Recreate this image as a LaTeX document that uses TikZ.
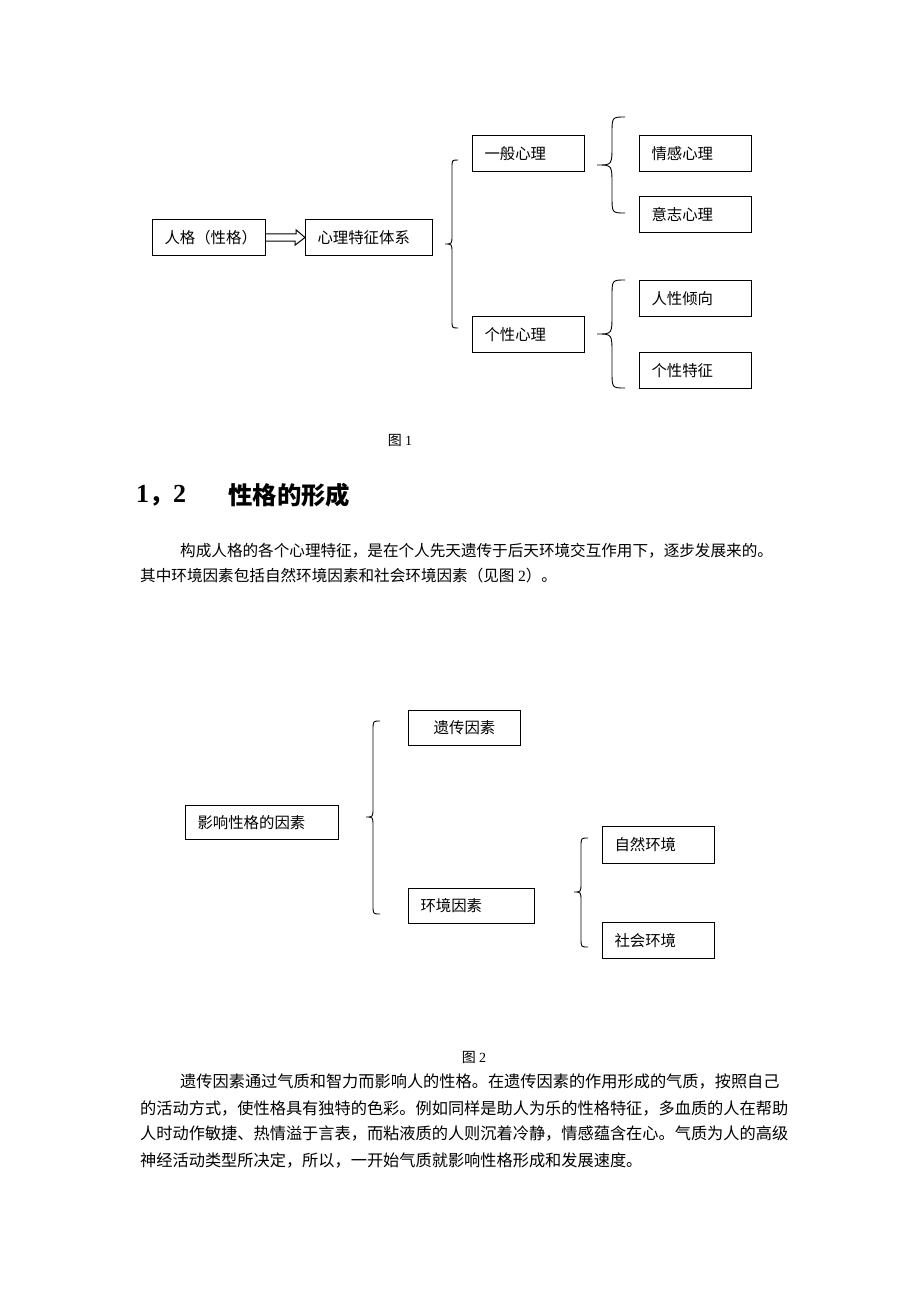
\documentclass[tikz,border=0pt]{standalone}
\usepackage{fontspec}
\setmainfont{Liberation Serif}
\newfontfamily\cjk{Noto Sans CJK SC}
\usetikzlibrary{calc}

\tikzset{
  kuang/.style={draw, line width=1pt, anchor=north west, minimum height=36pt,
    inner xsep=12pt, inner ysep=0pt, align=left,
    font=\cjk\fontsize{15.4}{18}\selectfont},
  kuohao/.style={line width=0.9pt},
  wenzi/.style={anchor=west, inner sep=0pt},
}

% brace: end x, line x, tip x, top y, tip y, bottom y
\newcommand{\dakuohao}[6]{%
  \draw[kuohao] (#1,#4) .. controls (#2,#4) .. (#2,{#4+1.3*(#1-#2)})
    -- (#2,{#5-1.3*(#2-#3)}) .. controls (#2,#5) .. (#3,#5)
    .. controls (#2,#5) .. (#2,{#5+1.3*(#2-#3)})
    -- (#2,{#6-1.3*(#1-#2)}) .. controls (#2,#6) .. (#1,#6);}

\begin{document}
\begin{tikzpicture}[x=1pt,y=-1pt]
  \fill[white] (0,0) rectangle (920,1302);
  \useasboundingbox (0,0) rectangle (920,1302);

  %Fig 1 nodes
  \node[kuang, text width=89pt]  at (152,219) (renge)    {人格（性格）};
  \node[kuang, text width=103pt] at (305,219) (xinli)    {心理特征体系};
  \node[kuang, text width=88pt]  at (472,135) (yiban)    {一般心理};
  \node[kuang, text width=88pt]  at (472,316) (gexing)   {个性心理};
  \node[kuang, text width=88pt]  at (639,135) (qinggan)  {情感心理};
  \node[kuang, text width=88pt]  at (639,196) (yizhi)    {意志心理};
  \node[kuang, text width=88pt]  at (639,280) (renxing)  {人性倾向};
  \node[kuang, text width=88pt]  at (639,352) (tezheng)  {个性特征};

  %Fig 1 arrow and braces
  \draw[line width=1pt, line join=miter]
    ($(renge.east)+(0,-3.7)$) -- ++(30,0) -- ++(0,-4)
    -- (xinli.west) -- ++(-10,7.7) -- ++(0,-4) -- ($(renge.east)+(0,3.7)$);
  \dakuohao{458}{452}{445}{160}{244}{328}
  \dakuohao{625}{612}{597}{117}{165}{213}
  \dakuohao{625}{612}{597}{280}{334}{388}

  \node[font=\cjk\fontsize{14}{16}\selectfont] at (400,440) (tu1) {图 {\rmfamily 1}};

  %Heading and text
  \node[wenzi, font=\bfseries\fontsize{26}{30}\selectfont] at (136,496) (bianhao) {1{\cjk\bfseries\fontsize{24}{28}\selectfont ，}2};
  \node[wenzi, font=\cjk\bfseries\fontsize{24.4}{28}\selectfont] at (228,495) (biaoti) {性格的形成};
  \begin{scope}[every node/.append style={wenzi, font=\cjk\fontsize{15.6}{18}\selectfont}]
    \node at (180,551) (duan1a) {构成人格的各个心理特征，是在个人先天遗传于后天环境交互作用下，逐步发展来的。};
    \node at (140,576) (duan1b) {其中环境因素包括自然环境因素和社会环境因素（见图 {\rmfamily 2}）。};
  \end{scope}

  %Fig 2 nodes
  \node[kuang, text width=129pt, minimum height=34pt] at (185,805) (yingxiang) {影响性格的因素};
  \node[kuang, text width=88pt, align=center, minimum height=35pt] at (408,710) (yichuan) {遗传因素};
  \node[kuang, text width=102pt, minimum height=35pt] at (408,888) (huanjing) {环境因素};
  \node[kuang, text width=88pt, minimum height=37pt] at (602,826) (ziran)  {自然环境};
  \node[kuang, text width=88pt]  at (602,922) (shehui) {社会环境};

  %Fig 2 braces
  \dakuohao{380}{373}{366}{721}{817}{914}
  \dakuohao{588}{581}{574}{838}{892}{947}

  \node[font=\cjk\fontsize{14}{16}\selectfont] at (474,1057) (tu2) {图 {\rmfamily 2}};

  \begin{scope}[every node/.append style={wenzi, font=\cjk\fontsize{16.2}{18}\selectfont}]
    \node at (180,1082) (duan2a) {遗传因素通过气质和智力而影响人的性格。在遗传因素的作用形成的气质，按照自己};
    \node at (140,1108) (duan2b) {的活动方式，使性格具有独特的色彩。例如同样是助人为乐的性格特征，多血质的人在帮助};
    \node at (140,1134) (duan2c) {人时动作敏捷、热情溢于言表，而粘液质的人则沉着冷静，情感蕴含在心。气质为人的高级};
    \node at (140,1160) (duan2d) {神经活动类型所决定，所以，一开始气质就影响性格形成和发展速度。};
  \end{scope}
\end{tikzpicture}
\end{document}
